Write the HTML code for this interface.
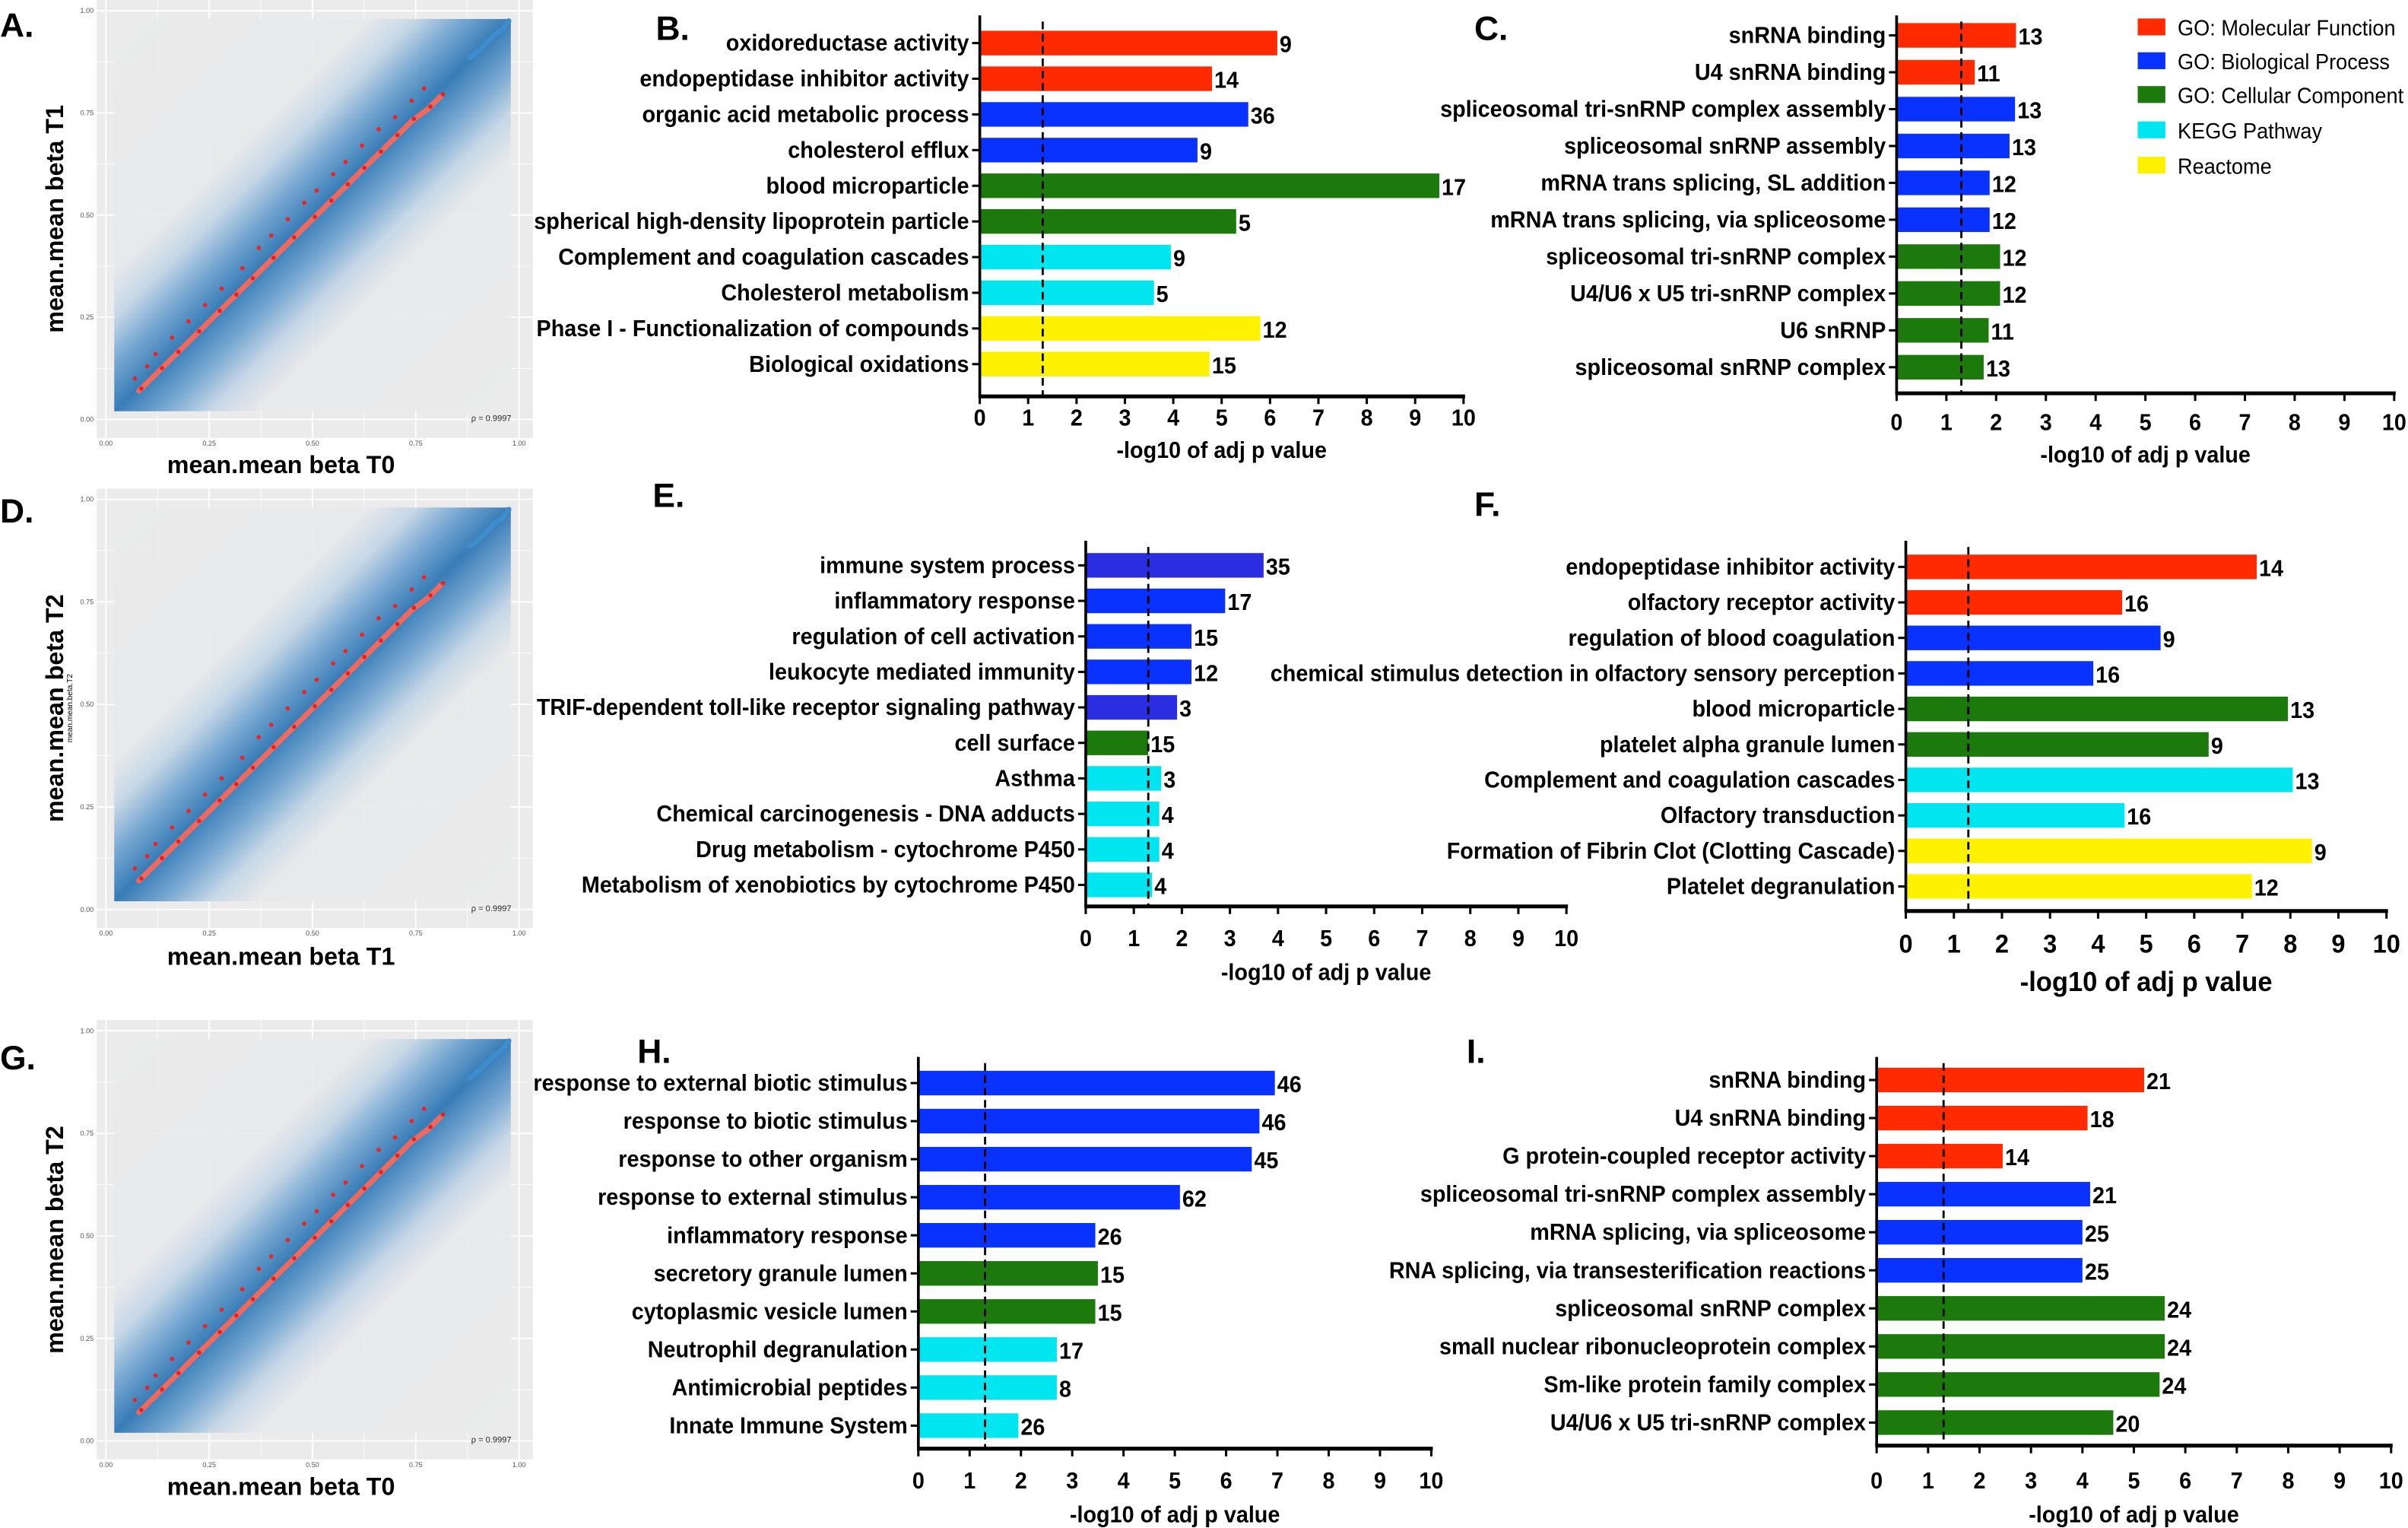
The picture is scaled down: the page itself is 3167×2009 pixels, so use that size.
<!DOCTYPE html>
<html><head><meta charset="utf-8">
<style>
html,body{margin:0;padding:0;background:#fff;}
svg{display:block;}
text{font-family:"Liberation Sans",sans-serif;}
</style></head>
<body>
<svg id="fig" xmlns="http://www.w3.org/2000/svg" width="3167" height="2009" viewBox="0 0 1568 994.6">
<defs>
<linearGradient id="band" x1="0" y1="0" x2="1" y2="1">
<stop offset="0" stop-color="#ebebeb"/>
<stop offset="0.32" stop-color="#e8e9eb"/>
<stop offset="0.38" stop-color="#c4d6e7"/>
<stop offset="0.44" stop-color="#6ea2cf"/>
<stop offset="0.5" stop-color="#2a74b3"/>
<stop offset="0.56" stop-color="#6ea2cf"/>
<stop offset="0.62" stop-color="#c4d6e7"/>
<stop offset="0.68" stop-color="#e8e9eb"/>
<stop offset="1" stop-color="#ebebeb"/>
</linearGradient>
</defs>
</svg>
<script>
// ---------- scatter data ----------
const scatterUpperX=[0.07,0.1,0.12,0.16,0.2,0.24,0.28,0.33,0.37,0.4,0.44,0.48,0.51,0.55,0.58,0.62,0.66,0.7,0.74,0.77];
const scatterUpperY=[0.1,0.13,0.16,0.2,0.24,0.28,0.32,0.37,0.42,0.45,0.49,0.53,0.56,0.6,0.63,0.67,0.71,0.74,0.78,0.81];
const scatterMainX=[0.08,0.13,0.17,0.22,0.27,0.31,0.35,0.4,0.45,0.5,0.54,0.58,0.62,0.66,0.7,0.74,0.78,0.81];
const scatterMainY=[0.07,0.12,0.16,0.21,0.26,0.3,0.34,0.39,0.44,0.49,0.53,0.57,0.61,0.65,0.69,0.73,0.76,0.79];
const scatterHighX=[0.88,0.9,0.92,0.94,0.96,0.975];
const scatterHighY=[0.885,0.9,0.92,0.94,0.955,0.975];
const scatterTicks=["0.00","0.25","0.50","0.75","1.00"];
const scatterTickVals=[0,0.25,0.5,0.75,1];

// ---------- bar data ----------
const catNames=["GO: Molecular Function","GO: Biological Process","GO: Cellular Component","KEGG Pathway","Reactome"];
const xTickVals=[0,1,2,3,4,5,6,7,8,9,10];

const bLabels=["oxidoreductase activity","endopeptidase inhibitor activity","organic acid metabolic process","cholesterol efflux","blood microparticle","spherical high-density lipoprotein particle","Complement and coagulation cascades","Cholesterol metabolism","Phase I - Functionalization of compounds","Biological oxidations"];
const bValues=[6.15,4.8,5.55,4.5,9.5,5.3,3.95,3.6,5.8,4.75];
const bCounts=[9,14,36,9,17,5,9,5,12,15];
const bCats=[0,0,1,1,2,2,3,3,4,4];

const cLabels=["snRNA binding","U4 snRNA binding","spliceosomal tri-snRNP complex assembly","spliceosomal snRNP assembly","mRNA trans splicing, SL addition","mRNA trans splicing, via spliceosome","spliceosomal tri-snRNP complex","U4/U6 x U5 tri-snRNP complex","U6 snRNP","spliceosomal snRNP complex"];
const cValues=[2.4,1.57,2.38,2.27,1.87,1.87,2.08,2.08,1.85,1.75];
const cCounts=[13,11,13,13,12,12,12,12,11,13];
const cCats=[0,0,1,1,1,1,2,2,2,2];

const eLabels=["immune system process","inflammatory response","regulation of cell activation","leukocyte mediated immunity","TRIF-dependent toll-like receptor signaling pathway","cell surface","Asthma","Chemical carcinogenesis - DNA adducts","Drug metabolism - cytochrome P450","Metabolism of xenobiotics by cytochrome P450"];
const eValues=[3.7,2.9,2.2,2.2,1.9,1.3,1.57,1.53,1.53,1.38];
const eCounts=[35,17,15,12,3,15,3,4,4,4];
const eCats=[1,1,1,1,1,2,3,3,3,3];

const fLabels=["endopeptidase inhibitor activity","olfactory receptor activity","regulation of blood coagulation","chemical stimulus detection in olfactory sensory perception","blood microparticle","platelet alpha granule lumen","Complement and coagulation cascades","Olfactory transduction","Formation of Fibrin Clot (Clotting Cascade)","Platelet degranulation"];
const fValues=[7.3,4.5,5.3,3.9,7.95,6.3,8.05,4.55,8.45,7.2];
const fCounts=[14,16,9,16,13,9,13,16,9,12];
const fCats=[0,0,1,1,2,2,3,3,4,4];

const hLabels=["response to external biotic stimulus","response to biotic stimulus","response to other organism","response to external stimulus","inflammatory response","secretory granule lumen","cytoplasmic vesicle lumen","Neutrophil degranulation","Antimicrobial peptides","Innate Immune System"];
const hValues=[6.95,6.65,6.5,5.1,3.45,3.5,3.45,2.7,2.7,1.95];
const hCounts=[46,46,45,62,26,15,15,17,8,26];
const hCats=[1,1,1,1,1,2,2,3,3,3];

const iLabels=["snRNA binding","U4 snRNA binding","G protein-coupled receptor activity","spliceosomal tri-snRNP complex assembly","mRNA splicing, via spliceosome","RNA splicing, via transesterification reactions","spliceosomal snRNP complex","small nuclear ribonucleoprotein complex","Sm-like protein family complex","U4/U6 x U5 tri-snRNP complex"];
const iValues=[5.2,4.1,2.45,4.15,4.0,4.0,5.6,5.6,5.5,4.6];
const iCounts=[21,18,14,21,25,25,24,24,24,20];
const iCats=[0,0,0,1,1,1,2,2,2,2];

const NS="http://www.w3.org/2000/svg";
const svg=document.getElementById('fig');
const colors=["#ff2a00","#0a32ff","#1c7a0c","#00e6f0","#fff200"];
const SX=0.95;
function mk(tag,attrs,parent){const e=document.createElementNS(NS,tag);for(const k in attrs)e.setAttribute(k,attrs[k]);(parent||svg).appendChild(e);return e;}
function txt(x,y,attrs,parent,s){attrs.transform=`translate(${x},${y}) scale(${s||SX},1)`;attrs.x=0;attrs.y=0;return mk('text',attrs,parent);}

// ---------- scatter panels ----------
function scatter(cfg){
  const g=mk('g',{});
  
  
  const sx=v=>cfg.x0+(cfg.x1-cfg.x0)*v, sy=v=>cfg.y0+(cfg.y1-cfg.y0)*v;
  const bg=mk('rect',{x:63,y:cfg.top,width:284,height:cfg.bot-cfg.top,fill:'#ebebeb'},g);
  
  
  for(let i=0;i<9;i++){const v=i*0.125,w=i%2?0.4:0.9;
    mk('line',{x1:sx(v),x2:sx(v),y1:cfg.top,y2:cfg.bot,stroke:'#fff','stroke-width':w},g);
    mk('line',{x1:63,x2:347,y1:sy(v),y2:sy(v),stroke:'#fff','stroke-width':w},g);}
  const sq=mk('rect',{x:sx(0.02),y:sy(0.98),width:sx(0.98)-sx(0.02),height:sy(0.02)-sy(0.98),fill:'url(#band)','fill-opacity':0.93},g);
  
  
  const pts=scatterMainX.map((v,i)=>sx(v)+','+sy(scatterMainY[i])).join(' ');
  mk('polyline',{points:pts,fill:'none',stroke:'#ee6a60','stroke-width':3.5,'stroke-linecap':'round'},g);
  const hp=scatterHighX.map((v,i)=>sx(v)+','+sy(scatterHighY[i])).join(' ');
  mk('polyline',{points:hp,fill:'none',stroke:'#3f8ccc','stroke-width':3.5,'stroke-linecap':'round'},g);
  scatterUpperX.forEach((v,i)=>{const c=mk('circle',{cx:sx(v),cy:sy(scatterUpperY[i]),r:1.4,fill:'#ee2222'},g);
    
    });
  scatterMainX.forEach((v,i)=>{const c=mk('circle',{cx:sx(v)+1.5,cy:sy(scatterMainY[i])-1.5,r:1.4,fill:'#e82020'},g);
    
    });
  scatterTickVals.forEach((v,i)=>{
    const t=mk('text',{x:61,y:sy(v)+1.5,'font-size':4.5,fill:'#555','text-anchor':'end'},g);t.textContent=scatterTicks[i];
    
    
    const u=mk('text',{x:sx(v),y:cfg.bot+5,'font-size':4.5,fill:'#555','text-anchor':'middle'},g);u.textContent=scatterTicks[i];
    
    });
  const r=mk('text',{x:333,y:cfg.bot-11,'font-size':5.5,fill:'#222','text-anchor':'end'},g);r.textContent='ρ = 0.9997';
  
  
  const xl=mk('text',{x:183,y:cfg.xt,'font-size':16,'font-weight':'bold','text-anchor':'middle'},g);xl.textContent=cfg.xlab;
  
  
  const cy=(cfg.top+cfg.bot)/2;
  const yl=mk('text',{x:0,y:0,'font-size':16,'font-weight':'bold','text-anchor':'middle',transform:`translate(41,${cy}) rotate(-90)`},g);yl.textContent=cfg.ylab;
  
  
  const L=mk('text',{x:0,y:cfg.lett,'font-size':22,'font-weight':'bold'},g);L.textContent=cfg.letter;
  
  
}
scatter({name:'panel-a-scatter',x0:69,x1:338,y0:273,y1:7,top:0,bot:285,xt:308,xlab:'mean.mean beta T0',ylab:'mean.mean beta T1',letter:'A.',lett:24});
scatter({name:'panel-d-scatter',x0:69,x1:338,y0:592,y1:325,top:318,bot:604,xt:628,xlab:'mean.mean beta T1',ylab:'mean.mean beta T2',letter:'D.',lett:340});
scatter({name:'panel-g-scatter',x0:69,x1:338,y0:938,y1:671,top:664,bot:950,xt:973,xlab:'mean.mean beta T0',ylab:'mean.mean beta T2',letter:'G.',lett:696});
{const t=mk('text',{x:0,y:0,'font-size':5,transform:'translate(47,461) rotate(-90)','text-anchor':'middle'});t.textContent='mean.mean.beta.T2';

}

// ---------- bar panels ----------
function bars(cfg){
  const g=mk('g',{});
  
  
  const sx=v=>cfg.x0+(cfg.x10-cfg.x0)*v/10;
  const n=cfg.labels.length, step=(cfg.rowN-cfg.row0)/(n-1);
  cfg.values.forEach((v,i)=>{
    const y=cfg.row0+i*step;
    const b=mk('rect',{x:cfg.x0,y:y-8,width:sx(v)-cfg.x0,height:16,fill:(cfg.dark&&(i==0||i==4))?'#2a2ee0':colors[cfg.cats[i]]},g);
    
    
    const c=txt(sx(v)+1.5,y+6,{'font-size':15,'font-weight':'bold'},g);c.textContent=cfg.counts[i];
    
    
    const l=txt(cfg.x0-7,y+5,{'font-size':15,'font-weight':'bold','text-anchor':'end'},g);l.textContent=cfg.labels[i];
    
    
    mk('line',{x1:cfg.x0-5,x2:cfg.x0,y1:y,y2:y,stroke:'#000','stroke-width':1.5},g);
  });
  const sl=mk('line',{x1:sx(1.301),x2:sx(1.301),y1:cfg.top+4,y2:cfg.axisY,stroke:'#000','stroke-width':1.4,'stroke-dasharray':'5,3'},g);
  
  
  mk('line',{x1:cfg.x0,x2:cfg.x0,y1:cfg.top,y2:cfg.axisY,stroke:'#000','stroke-width':1.8},g);
  const ax=mk('line',{x1:cfg.x0-0.9,x2:cfg.x10+1,y1:cfg.axisY,y2:cfg.axisY,stroke:'#000','stroke-width':2.5},g);
  
  
  xTickVals.forEach(v=>{
    mk('line',{x1:sx(v),x2:sx(v),y1:cfg.axisY,y2:cfg.axisY+5,stroke:'#000','stroke-width':1.5},g);
    const t=txt(sx(v),cfg.tickY,{'font-size':cfg.tfs,'font-weight':'bold','text-anchor':'middle'},g);t.textContent=v;
    
    
  });
  const tt=txt((cfg.x0+cfg.x10)/2,cfg.titleY,{'font-size':cfg.ttfs,'font-weight':'bold','text-anchor':'middle'},g);tt.textContent='-log10 of adj p value';
  
  
  const L=mk('text',{x:cfg.lx,y:cfg.ly,'font-size':22,'font-weight':'bold'},g);L.textContent=cfg.letter;
  
  
}
bars({name:'panel-b-bars',labels:bLabels,values:bValues,counts:bCounts,cats:bCats,x0:638,x10:953,row0:28,rowN:237,top:10,axisY:258,tickY:277,titleY:298,tfs:15,ttfs:15,letter:'B.',lx:427,ly:26});
bars({name:'panel-c-bars',labels:cLabels,values:cValues,counts:cCounts,cats:cCats,x0:1235,x10:1559,row0:23,rowN:239,top:10,axisY:256,tickY:280,titleY:301,tfs:15,ttfs:15,letter:'C.',lx:960,ly:26});
bars({name:'panel-e-bars',labels:eLabels,values:eValues,counts:eCounts,cats:eCats,dark:true,x0:707,x10:1020,row0:368,rowN:576,top:352,axisY:590,tickY:616,titleY:638,tfs:15,ttfs:15,letter:'E.',lx:425,ly:330});
bars({name:'panel-f-bars',labels:fLabels,values:fValues,counts:fCounts,cats:fCats,x0:1241,x10:1554,row0:369,rowN:577,top:352,axisY:593,tickY:620,titleY:645,tfs:17,ttfs:18,letter:'F.',lx:960,ly:336});
bars({name:'panel-h-bars',labels:hLabels,values:hValues,counts:hCounts,cats:hCats,x0:598,x10:932,row0:705,rowN:928,top:688,axisY:943,tickY:969,titleY:991,tfs:15,ttfs:15,letter:'H.',lx:415,ly:692});
bars({name:'panel-i-bars',labels:iLabels,values:iValues,counts:iCounts,cats:iCats,x0:1222,x10:1557,row0:703,rowN:926,top:688,axisY:941,tickY:969,titleY:991,tfs:15,ttfs:15,letter:'I.',lx:955,ly:692});

// ---------- legend ----------
const lg=mk('g',{});


const legY=[18,40,62,85,108];
catNames.forEach((nm,i)=>{
  const r=mk('rect',{x:1392,y:legY[i]-6,width:18,height:11,fill:colors[i]},lg);
  
  
  const t=txt(1418,legY[i]+5,{'font-size':14},lg,0.96);t.textContent=nm;
  
  
});
</script>
</body></html>
